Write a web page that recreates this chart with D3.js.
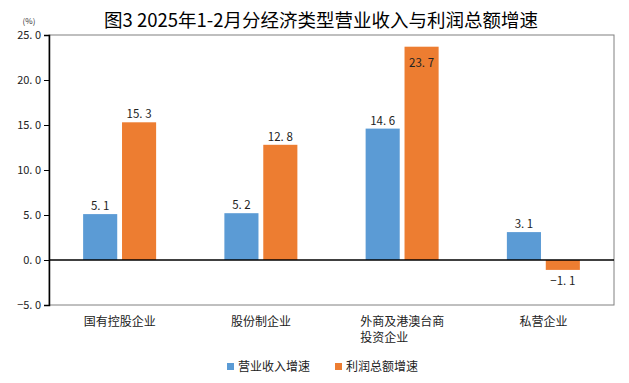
<!DOCTYPE html>
<html><head><meta charset="utf-8">
<script src="https://cdn.jsdelivr.net/npm/d3@7"></script>
<style>body{margin:0;background:#fff}svg{display:block}text{font-family:"Noto Sans CJK SC","DejaVu Sans",sans-serif}</style>
</head><body><svg id="c" width="629" height="383"></svg>
<script>
const title = "图3 2025年1-2月分经济类型营业收入与利润总额增速";
const categories = [["国有控股企业"],["股份制企业"],["外商及港澳台商","投资企业"],["私营企业"]];
const seriesNames = ["营业收入增速","利润总额增速"];
const revenue = [5.1, 5.2, 14.6, 3.1];
const profit = [15.3, 12.8, 23.7, -1.1];
const yTicks = [-5, 0, 5, 10, 15, 20, 25];
const colors = ["#5B9BD5", "#ED7D31"];

const svg = d3.select("#c");
const L = 49, R = 614, T = 35, B = 305;
const y = d3.scaleLinear().domain([-5, 25]).range([B, T]);
const x = d3.scaleBand().domain(d3.range(categories.length)).range([L, R]);
const barW = 32, gap = 9;
const xs = d3.scaleBand().domain([0,1]).range([-(barW+gap/2), barW+gap/2]).paddingInner(gap/(2*barW+gap)).paddingOuter(0);

svg.append("text").attr("x", 321).attr("y", 27).attr("text-anchor","middle")
  .attr("font-size", 18.5).attr("fill","#000").text(title);
svg.append("text").attr("x", 29).attr("y", 24).attr("text-anchor","middle")
  .attr("font-size", 8).attr("fill","#333").text("(%)");

// frame
svg.append("rect").attr("x", L).attr("y", T).attr("width", R-L).attr("height", B-T)
  .attr("fill","none").attr("stroke","#808080").attr("stroke-width",1);

const yAxis = d3.axisLeft(y).tickValues(yTicks).tickSize(5).tickFormat(d => d3.format(".1f")(d).replace("-", "−").replace(".", ". "));
const gy = svg.append("g").attr("transform", `translate(${L},0)`).call(yAxis);
gy.select(".domain").attr("stroke","#000").attr("stroke-width",1.5);
gy.selectAll(".tick line").attr("stroke","#000");
gy.selectAll(".tick text").attr("font-size", 11).attr("fill","#222").attr("x", -8)
  .attr("font-family","'Liberation Sans',sans-serif");

const data = [revenue, profit];
data.forEach((vals, s) => {
  svg.append("g").selectAll("rect").data(vals).join("rect")
    .attr("x", (d,i) => x(i) + x.bandwidth()/2 + xs(s))
    .attr("width", xs.bandwidth())
    .attr("y", d => y(Math.max(0,d)))
    .attr("height", d => Math.abs(y(d) - y(0)))
    .attr("fill", colors[s]);
  svg.append("g").selectAll("text").data(vals).join("text")
    .attr("x", (d,i) => x(i) + x.bandwidth()/2 + xs(s) + xs.bandwidth()/2)
    .attr("y", d => d < 0 ? y(d) + 15 : (y(d) - 24 < T ? y(d) + 20 : y(d) - 4))
    .attr("text-anchor","middle").attr("font-size", 11.5).attr("fill","#222")
    .attr("font-family","'Liberation Sans',sans-serif")
    .text(d => d3.format(".1f")(d).replace("-", "−").replace(".", ". "));
});

// zero line
svg.append("line").attr("x1", L).attr("x2", R).attr("y1", y(0)).attr("y2", y(0))
  .attr("stroke","#000").attr("stroke-width",1.5);

// category labels
categories.forEach((lines, i) => {
  const cx = x(i) + x.bandwidth()/2;
  const w = lines[0].length * 12;
  const t = svg.append("text").attr("font-size", 12).attr("fill","#222")
    .attr("x", cx - w/2).attr("y", 326);
  lines.forEach((ln, k) => t.append("tspan").attr("x", cx - w/2).attr("dy", k ? 16 : 0).text(ln));
});

// legend
const lg = [[227, 238], [335, 346]];
seriesNames.forEach((n, s) => {
  svg.append("rect").attr("x", lg[s][0]).attr("y", 363).attr("width", 7).attr("height", 7).attr("fill", colors[s]);
  svg.append("text").attr("x", lg[s][1]).attr("y", 371).attr("font-size", 12).attr("fill","#222").text(n);
});
</script></body></html>
